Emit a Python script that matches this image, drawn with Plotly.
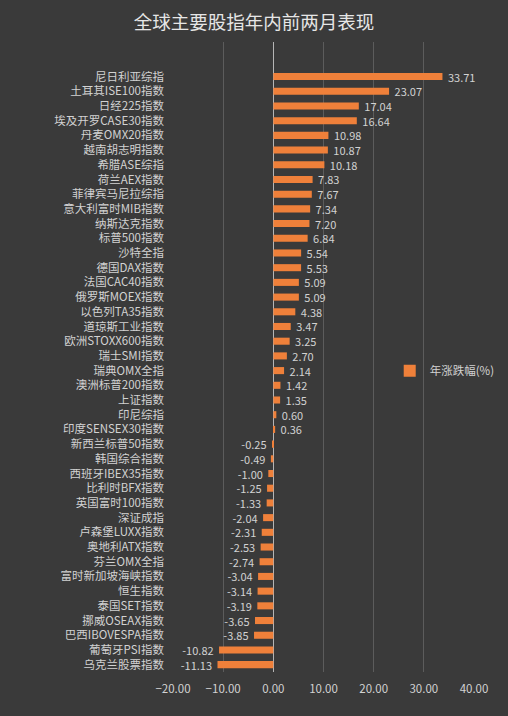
import plotly.graph_objects as go

indices = ["尼日利亚综指", "土耳其ISE100指数", "日经225指数", "埃及开罗CASE30指数", "丹麦OMX20指数",
           "越南胡志明指数", "希腊ASE综指", "荷兰AEX指数", "菲律宾马尼拉综指", "意大利富时MIB指数",
           "纳斯达克指数", "标普500指数", "沙特全指", "德国DAX指数", "法国CAC40指数",
           "俄罗斯MOEX指数", "以色列TA35指数", "道琼斯工业指数", "欧洲STOXX600指数", "瑞士SMI指数",
           "瑞典OMX全指", "澳洲标普200指数", "上证指数", "印尼综指", "印度SENSEX30指数",
           "新西兰标普50指数", "韩国综合指数", "西班牙IBEX35指数", "比利时BFX指数", "英国富时100指数",
           "深证成指", "卢森堡LUXX指数", "奥地利ATX指数", "芬兰OMX全指", "富时新加坡海峡指数",
           "恒生指数", "泰国SET指数", "挪威OSEAX指数", "巴西IBOVESPA指数", "葡萄牙PSI指数",
           "乌克兰股票指数"]
change_pct = [33.71, 23.07, 17.04, 16.64, 10.98,
              10.87, 10.18, 7.83, 7.67, 7.34,
              7.20, 6.84, 5.54, 5.53, 5.09,
              5.09, 4.38, 3.47, 3.25, 2.70,
              2.14, 1.42, 1.35, 0.60, 0.36,
              -0.25, -0.49, -1.00, -1.25, -1.33,
              -2.04, -2.31, -2.53, -2.74, -3.04,
              -3.14, -3.19, -3.65, -3.85, -10.82,
              -11.13]
x_ticks = [-20, -10, 0, 10, 20, 30, 40]

font = "Noto Sans CJK SC"
txt = "#d2d2d2"

# little gap between bar end and value, like the excel chart
labels = [("\u00a0" + f"{v:.2f}") if v >= 0 else (f"{v:.2f}" + "\u00a0") for v in change_pct]

fig = go.Figure()
fig.add_trace(go.Bar(
    x=change_pct, y=indices, orientation="h",
    name="年涨跌幅(%)",
    marker=dict(color="#ef803a", line=dict(width=0)),
    text=labels,
    textposition="outside",
    constraintext="none",
    textfont=dict(color=txt, size=11, family=font),
    cliponaxis=False,
))

fig.update_layout(
    width=508, height=716,
    paper_bgcolor="#3a3a3a", plot_bgcolor="#3a3a3a",
    margin=dict(l=173, r=34, t=42, b=44, autoexpand=False),
    title=dict(text="全球主要股指年内前两月表现", x=0.5, xanchor="center", y=0.969, yanchor="middle",
               font=dict(color="#e6e6e6", size=18.5, family=font)),
    bargap=0.52,
    showlegend=True,
    legend=dict(x=0.72, y=0.478, xanchor="left", yanchor="middle", bgcolor="rgba(0,0,0,0)",
                font=dict(color=txt, size=11.5, family=font), itemwidth=30),
    font=dict(family=font, color=txt),
)
fig.update_xaxes(range=[-20, 40], tickvals=x_ticks, tickformat=".2f", automargin=False,
                 showgrid=True, gridcolor="#5c5c5c", gridwidth=1,
                 zeroline=True, zerolinecolor="#b5b5b5", zerolinewidth=1,
                 showline=False, tickfont=dict(color=txt, size=11.5, family=font), ticks="",
                 ticklabelstandoff=8)
fig.update_yaxes(autorange=False, range=[40.5, -2.35], showgrid=False, showline=False, automargin=False,
                 tickfont=dict(color=txt, size=11.5, family=font), ticks="", ticklabelstandoff=8)

# page body has a default 8px margin, drop it so the figure fills the window
fig.write_html("out.html", config={"displayModeBar": False},
               post_script="document.body.style.margin='0';")
